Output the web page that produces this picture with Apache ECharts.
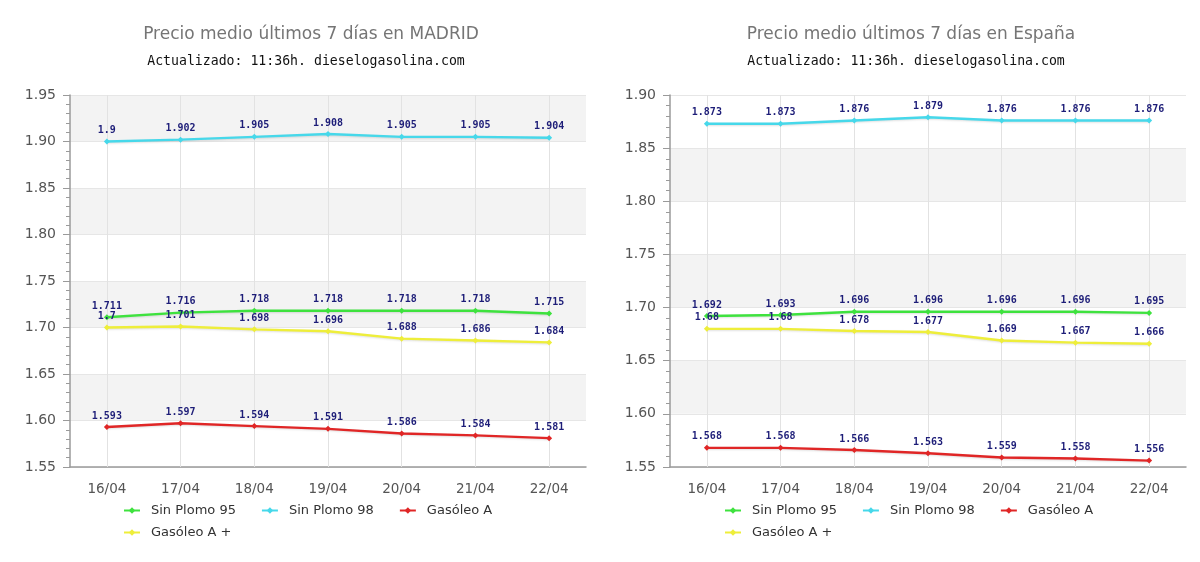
<!DOCTYPE html>
<html>
<head>
<meta charset="utf-8">
<script src="https://cdn.jsdelivr.net/npm/echarts@6/dist/echarts.min.js"></script>
<style>
html,body{margin:0;padding:0;background:#fff;}
#c{width:1200px;height:562px;}
</style>
</head>
<body>
<div id="c"></div>
<script>
const categories = ['16/04','17/04','18/04','19/04','20/04','21/04','22/04'];
const seriesNames = ['Sin Plomo 95','Sin Plomo 98','Gasóleo A','Gasóleo A +'];

const madridSP95 = [1.711,1.716,1.718,1.718,1.718,1.718,1.715];
const madridSP98 = [1.9,1.902,1.905,1.908,1.905,1.905,1.904];
const madridGA   = [1.593,1.597,1.594,1.591,1.586,1.584,1.581];
const madridGAP  = [1.7,1.701,1.698,1.696,1.688,1.686,1.684];

const espSP95 = [1.692,1.693,1.696,1.696,1.696,1.696,1.695];
const espSP98 = [1.873,1.873,1.876,1.879,1.876,1.876,1.876];
const espGA   = [1.568,1.568,1.566,1.563,1.559,1.558,1.556];
const espGAP  = [1.68,1.68,1.678,1.677,1.669,1.667,1.666];

const titleLeft = 'Precio medio últimos 7 días en MADRID';
const titleRight = 'Precio medio últimos 7 días en España';
const subtitle = 'Actualizado: 11:36h. dieselogasolina.com';

const colors = ['#3ee23e','#46d8ea','#e02626','#eeee3a'];

const charts = [
  {title: titleLeft, titleX: 311, gridLeft: 70, min: 1.55, max: 1.95, legendX: 123, data: [madridSP95, madridSP98, madridGA, madridGAP]},
  {title: titleRight, titleX: 911, gridLeft: 670, min: 1.55, max: 1.90, legendX: 724, data: [espSP95, espSP98, espGA, espGAP]}
];

const option = {
  animation: false,
  title: [], grid: [], xAxis: [], yAxis: [], legend: [], series: []
};

charts.forEach((ch, i) => {
  option.title.push({
    text: ch.title, left: ch.titleX, top: 26, textAlign: 'center', padding: 0,
    textStyle: {fontFamily: 'DejaVu Sans', fontSize: 17, fontWeight: 'normal', color: '#757575'}
  });
  option.title.push({
    text: subtitle, left: ch.titleX - 5, top: 55, textAlign: 'center', padding: 0,
    textStyle: {fontFamily: 'DejaVu Sans Mono', fontSize: 13.2, fontWeight: 'normal', color: '#111'}
  });
  option.grid.push({left: ch.gridLeft, top: 95, width: 516, height: 372, containLabel: false});
  option.xAxis.push({
    type: 'category', gridIndex: i, data: categories, boundaryGap: true,
    axisLine: {lineStyle: {color: '#9a9a9a', width: 1.5}},
    axisTick: {show: false},
    axisLabel: {fontFamily: 'DejaVu Sans', fontSize: 13.5, color: '#555', margin: 15},
    splitLine: {show: false}
  });
  option.yAxis.push({
    type: 'value', gridIndex: i, min: ch.min, max: ch.max, interval: 0.05,
    axisLine: {show: true, lineStyle: {color: '#9a9a9a', width: 1.5}},
    axisTick: {show: true, length: 7, lineStyle: {color: '#9a9a9a'}},
    minorTick: {show: true, splitNumber: 5, length: 4, lineStyle: {color: '#9a9a9a'}},
    axisLabel: {fontFamily: 'DejaVu Sans', fontSize: 14, color: '#555', margin: 14,
      formatter: v => v.toFixed(2)},
    splitLine: {show: true, lineStyle: {color: '#e6e6e6'}},
    splitArea: {show: true, areaStyle: {color: ['#ffffff', '#f3f3f3']}}
  });
  const legendBase = {
    orient: 'horizontal', top: 504, left: ch.legendX, padding: 0,
    itemWidth: 16, itemHeight: 8, itemGap: 25,
    textStyle: {fontFamily: 'DejaVu Sans', fontSize: 13, color: '#333', padding: [0, 0, 0, 6]}
  };
  option.legend.push(Object.assign({}, legendBase, {data: seriesNames.slice(0, 3)}));
  option.legend.push(Object.assign({}, legendBase, {top: 526, data: seriesNames.slice(3)}));
  ch.data.forEach((vals, k) => {
    const s = {
      name: seriesNames[k], type: 'line', xAxisIndex: i, yAxisIndex: i,
      data: vals, color: colors[k],
      symbol: 'diamond', symbolSize: 6, showSymbol: true,
      lineStyle: {width: 2.4, color: colors[k], shadowColor: 'rgba(0,0,0,0.12)', shadowBlur: 2, shadowOffsetY: 1},
      itemStyle: {color: colors[k]},
      label: {show: true, position: 'top', distance: 3,
        fontFamily: 'DejaVu Sans Mono', fontSize: 10, fontWeight: 'bold', color: '#1d1d78'},
      z: 3
    };
    if (k === 0) {
      s.markLine = {
        silent: true, symbol: 'none', z: 1, animation: false,
        label: {show: false},
        lineStyle: {color: '#e2e2e2', width: 1, type: 'solid'},
        data: categories.map(c => ({xAxis: c}))
      };
    }
    option.series.push(s);
  });
});

const chart = echarts.init(document.getElementById('c'), null, {renderer: 'canvas'});
chart.setOption(option);
</script>
</body>
</html>
